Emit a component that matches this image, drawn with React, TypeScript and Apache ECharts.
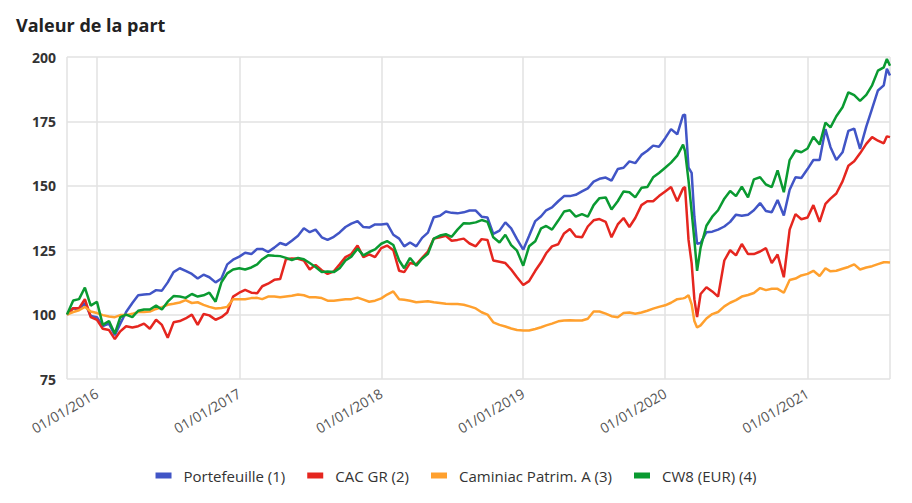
import React, { useEffect, useRef } from "react";
import * as echarts from "echarts";

const dates = [
  "2015-10-16", "2015-11-01", "2015-11-16", "2015-12-01", "2015-12-16",
  "2016-01-01", "2016-01-16", "2016-02-01", "2016-02-16", "2016-03-01", "2016-03-16", "2016-04-01", "2016-04-16", "2016-05-01", "2016-05-16", "2016-06-01", "2016-06-16",
  "2016-07-01", "2016-07-16", "2016-08-01", "2016-08-16", "2016-09-01", "2016-09-16", "2016-10-01", "2016-10-16", "2016-11-01", "2016-11-16", "2016-12-01", "2016-12-16",
  "2017-01-01", "2017-01-16", "2017-02-01", "2017-02-16", "2017-03-01", "2017-03-16", "2017-04-01", "2017-04-16", "2017-05-01", "2017-05-16", "2017-06-01", "2017-06-16",
  "2017-07-01", "2017-07-16", "2017-08-01", "2017-08-16", "2017-09-01", "2017-09-16", "2017-10-01", "2017-10-16", "2017-11-01", "2017-11-16", "2017-12-01", "2017-12-16",
  "2018-01-01", "2018-01-16", "2018-02-01", "2018-02-16", "2018-03-01", "2018-03-16", "2018-04-01", "2018-04-16", "2018-05-01", "2018-05-16", "2018-06-01", "2018-06-16",
  "2018-07-01", "2018-07-16", "2018-08-01", "2018-08-16", "2018-09-01", "2018-09-16", "2018-10-01", "2018-10-16", "2018-11-01", "2018-11-16", "2018-12-01", "2018-12-16",
  "2019-01-01", "2019-01-16", "2019-02-01", "2019-02-16", "2019-03-01", "2019-03-16", "2019-04-01", "2019-04-16", "2019-05-01", "2019-05-16", "2019-06-01", "2019-06-16",
  "2019-07-01", "2019-07-16", "2019-08-01", "2019-08-16", "2019-09-01", "2019-09-16", "2019-10-01", "2019-10-16", "2019-11-01", "2019-11-16", "2019-12-01", "2019-12-16",
  "2020-01-01", "2020-01-16", "2020-02-01", "2020-02-16", "2020-02-21", "2020-03-01", "2020-03-09", "2020-03-16", "2020-03-23", "2020-04-01", "2020-04-16", "2020-05-01", "2020-05-16", "2020-06-01", "2020-06-16",
  "2020-07-01", "2020-07-16", "2020-08-01", "2020-08-16", "2020-09-01", "2020-09-16", "2020-10-01", "2020-10-16", "2020-11-01", "2020-11-16", "2020-12-01", "2020-12-16",
  "2021-01-01", "2021-01-16", "2021-02-01", "2021-02-16", "2021-03-01", "2021-03-16", "2021-04-01", "2021-04-16", "2021-05-01", "2021-05-16", "2021-06-01", "2021-06-16",
  "2021-07-01", "2021-07-16", "2021-07-24", "2021-08-01",
];

const portefeuille = [
  100, 102.5, 102, 104.5, 99.5,
  99, 95.5, 96.5, 92, 96.5, 101, 104.5, 107.5, 107.8, 108, 109.5, 109.3, 112.5, 116.5, 118, 117, 115.8, 114, 115.5, 114.5, 112.5, 114, 119.5, 121.3,
  122.5, 124, 123.5, 125.5, 125.5, 124.3, 126, 127.8, 127, 128.7, 130.6, 133.5, 132, 133, 130, 129, 130.2, 131.9, 134, 135.3, 136.3, 134, 133.8, 135,
  135, 135.3, 131, 129.5, 126.5, 128, 126.5, 129.8, 131.8, 137.8, 138.4, 140, 139.5, 139.3, 139.7, 140.4, 140.4, 138, 137.7, 131.3, 132.6, 135.8, 133.5, 129.3,
  125.2, 130.5, 136.3, 138.2, 140.5, 141.6, 144, 146, 146, 146.5, 147.8, 149, 151.6, 152.7, 153.2, 152, 156.5, 157, 159.5, 158.8, 162, 163.6, 165.6, 165.2,
  168.5, 172, 170, 177.4, 177.6, 157, 155, 138, 127.5, 127.8, 132, 132.2, 133, 134.2, 136, 138.8, 138.4, 138.8, 140.5, 143.3, 140.2, 139.7, 144.5, 138.5, 148.5, 153.3, 153,
  156.5, 160, 160, 172, 165, 160, 163, 171.3, 172.2, 164.3, 173, 180, 187, 189, 195.4, 192.8,
];

const cacGR = [
  100, 102.5, 102.5, 106, 99,
  98, 94.5, 94, 90.5, 93.5, 95.5, 95, 95.5, 96.5, 94.5, 98, 96, 91, 97, 97.5, 98.5, 100, 96, 100.2, 99.7, 98, 99, 100.8, 107,
  108.5, 109.6, 108.5, 108.3, 111, 112, 113.5, 113.8, 121.5, 121.8, 121.7, 121, 117.5, 119.3, 117.2, 115.8, 116.8, 119.5, 122.3, 123.5, 126.8, 122.3, 123.4, 122.3,
  125.8, 126.8, 125, 117, 116.5, 120, 119.5, 122, 124.5, 129.5, 130, 130.6, 128.7, 129, 129.5, 127.6, 126.5, 129.3, 129, 121, 120.5, 120, 117.5, 114.5,
  111.5, 113, 117, 120.3, 123.8, 126.5, 127.3, 131.5, 133.2, 130.3, 130, 134.2, 136.6, 137.1, 136, 130, 135, 137.5, 134, 137.5, 142.5, 144, 144, 146,
  147.8, 149.5, 144, 149, 149.5, 129, 120, 106, 99, 108, 110.6, 109, 107, 121, 125, 123, 127.4, 123.5, 123.5, 124.5, 125.8, 120, 123.3, 114.5, 133, 139, 137,
  137.7, 142.5, 136, 143, 145, 147, 151.7, 157.8, 159.5, 162.6, 166.3, 168.9, 167.5, 166.5, 169.2, 168.9,
];

const caminiac = [
  100, 101, 101.7, 103, 101.2,
  100.6, 99.8, 99.3, 99, 99.8, 99.8, 100.3, 101, 101, 101.2, 102.2, 102.9, 103.8, 104.2, 104.7, 105.6, 104.5, 104.8, 103.8, 103, 102.4, 102.6, 103, 106,
  106, 106, 106.4, 106.5, 106, 107, 107, 106.7, 107, 107.3, 107.8, 107.5, 106.7, 106.7, 106.4, 105.4, 105.4, 105.7, 106, 106, 106.6, 105.8, 105, 105.4,
  106.3, 107.8, 109, 106, 105.8, 105.4, 104.8, 105, 105.2, 104.8, 104.5, 104.2, 104.1, 104.1, 103.8, 103.2, 102.4, 100.9, 100, 97, 96, 95.4, 94.6, 94,
  93.8, 93.8, 94.4, 95.1, 95.8, 96.5, 97.4, 97.7, 97.8, 97.7, 97.7, 98.4, 101.2, 101.2, 100.4, 99.4, 99, 100.6, 100.8, 100.3, 100.8, 101.5, 102.3, 103,
  103.6, 104.6, 106, 106.3, 106.5, 107.5, 104, 97.5, 95, 95.8, 98.5, 100.2, 101, 103.2, 104.6, 105.6, 107, 107.6, 108.4, 110.3, 109.5, 110, 110, 108.5, 113.4, 114, 115.2,
  115.8, 117, 115, 118, 116.8, 117, 117.8, 118.5, 119.5, 117.5, 118.3, 118.8, 119.6, 120.3, 120.3, 120.2,
];

const cw8 = [
  100, 105.5, 106, 110.5, 103.5,
  105, 96, 97.5, 92.6, 99, 100, 99, 101.5, 102, 102, 103.5, 102, 105, 107.2, 107, 106.5, 108, 107, 107.5, 108.5, 105, 112.5, 116, 117.5,
  118, 117.5, 118.3, 119.5, 121.5, 123, 122.8, 122.7, 122, 121.2, 122, 121.5, 120, 118.5, 116.5, 116.7, 116.5, 118, 121, 122.5, 125.6, 123, 124.3, 125.3,
  127.5, 128.5, 127, 121, 118, 122, 119, 121.7, 123.6, 129.5, 130.7, 131.2, 130.2, 133, 135.5, 135.4, 135.8, 136.7, 136, 130, 128, 131, 127, 124.8,
  119, 126.5, 128.5, 133.5, 134.4, 133, 136.5, 140, 140.5, 138, 139, 138, 142.5, 145.2, 145.5, 140.8, 144, 147.8, 147.5, 145.5, 149.2, 149.5, 153.3, 155,
  157, 159, 161.7, 166, 163.5, 152, 140, 129, 117, 126, 134.5, 138, 140.5, 145, 148, 146, 149.7, 145.5, 152.5, 153.3, 150.5, 149.5, 156, 147.5, 160, 163.7, 163,
  164.5, 169, 166, 174.5, 172.7, 177, 180.5, 186.3, 185.2, 183, 185.3, 189, 194.7, 196, 199.2, 196.6,
];

const seriesNames = ["Portefeuille (1)", "CAC GR (2)", "Caminiac Patrim. A (3)", "CW8 (EUR) (4)"];
const seriesColors = ["#4155c6", "#e5261f", "#ffa02e", "#0a9a31"];
const seriesValues = [portefeuille, cacGR, caminiac, cw8];

const FONT = "'Open Sans', sans-serif";

function pad(n: number) {
  return n < 10 ? "0" + n : "" + n;
}

export default function App() {
  const ref = useRef<HTMLDivElement>(null);

  useEffect(() => {
    document.body.style.margin = "0";
    if (!ref.current) return;
    const chart = echarts.init(ref.current, null, { renderer: "svg" });
    const gridLine = { color: "#e2e2e2", width: 1.5 };
    chart.setOption({
      animation: false,
      title: {
        text: "Valeur de la part",
        left: 11,
        top: 11,
        textStyle: { fontFamily: FONT, fontSize: 18, fontWeight: "bold", color: "#222" },
      },
      legend: {
        top: 463,
        left: "center",
        icon: "rect",
        itemWidth: 16,
        itemHeight: 6,
        itemGap: 22,
        textStyle: { fontFamily: FONT, fontSize: 15, color: "#333", padding: [0, 0, 0, 7] },
        data: seriesNames,
      },
      grid: { left: 67, right: 22, top: 57, bottom: 124, containLabel: false },
      xAxis: {
        type: "time",
        min: dates[0],
        max: dates[dates.length - 1],
        splitNumber: 6,
        axisLine: { show: false },
        axisTick: { show: false },
        splitLine: { show: true, lineStyle: gridLine },
        axisLabel: {
          rotate: 30,
          color: "#555",
          fontFamily: FONT,
          fontSize: 14,
          margin: 13,
          hideOverlap: false,
          formatter: (v: number) => {
            const d = new Date(v);
            return pad(d.getDate()) + "/" + pad(d.getMonth() + 1) + "/" + d.getFullYear();
          },
        },
      },
      yAxis: {
        type: "value",
        min: 75,
        max: 200,
        interval: 25,
        axisLine: { show: false },
        axisTick: { show: false },
        splitLine: { show: true, lineStyle: gridLine },
        axisLabel: { color: "#333", fontFamily: FONT, fontSize: 14, fontWeight: "bold", margin: 11 },
      },
      series: seriesNames.map((name, i) => ({
        name,
        type: "line",
        showSymbol: false,
        symbol: "none",
        color: seriesColors[i],
        lineStyle: { width: 2.5, color: seriesColors[i] },
        data: dates.map((d, j) => [d, seriesValues[i][j]]),
      })),
    });
    return () => chart.dispose();
  }, []);

  return <div ref={ref} style={{ width: 912, height: 503 }} />;
}
